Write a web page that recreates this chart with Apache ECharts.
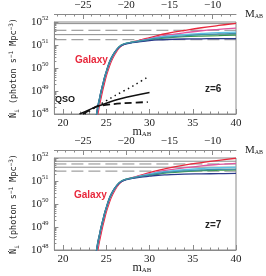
<!DOCTYPE html>
<html><head><meta charset="utf-8">
<script src="https://cdn.jsdelivr.net/npm/echarts@6/dist/echarts.min.js"></script>
<style>html,body{margin:0;padding:0;background:#fff}#c{width:266px;height:276px}</style>
</head><body><div id="c"></div>
<script>
// ---- tick labels ----
const mTickLabels = [20, 25, 30, 35, 40];
const mMinorTicks = [19, 21, 22, 23, 24, 26, 27, 28, 29, 31, 32, 33, 34, 36, 37, 38, 39];
const MTickLabels = [-25, -20, -15, -10];
const MMinorTicks = [-28, -27, -26, -24, -23, -22, -21, -19, -18, -17, -16, -14, -13, -12, -11, -9, -8];
const logTickLabels = [48, 49, 50, 51, 52];
const mRange = [19, 40];
const mToM = 47.3; // m_AB - M_AB offset

// ---- galaxy curves: m_AB grid and log10(N_i) ----
const mGal = [23.8, 24.0, 24.2, 24.4, 24.6, 24.8, 25.0, 25.3, 25.6, 26.0, 26.5, 27.0, 28.0, 29.0, 30.0, 31.0, 32.0, 34.0, 36.0, 38.0, 40.0];
// z = 6
const red6   = [47.6, 47.95, 48.35, 48.7, 49.05, 49.35, 49.65, 50.0, 50.3, 50.6, 50.88, 51.02, 51.13, 51.22, 51.32, 51.42, 51.5, 51.63, 51.75, 51.85, 51.94];
const pink6  = [47.7, 48.1, 48.5, 48.85, 49.2, 49.5, 49.75, 50.1, 50.38, 50.65, 50.9, 51.03, 51.12, 51.2, 51.28, 51.36, 51.43, 51.53, 51.62, 51.68, 51.73];
const cyan6  = [47.75, 48.2, 48.6, 48.95, 49.25, 49.55, 49.8, 50.15, 50.42, 50.68, 50.92, 51.04, 51.12, 51.19, 51.26, 51.33, 51.38, 51.45, 51.5, 51.54, 51.56];
const teal6  = [47.8, 48.3, 48.65, 49.0, 49.3, 49.6, 49.85, 50.2, 50.45, 50.7, 50.93, 51.04, 51.12, 51.18, 51.24, 51.3, 51.34, 51.4, 51.45, 51.48, 51.5];
const green6 = [47.8, 48.25, 48.62, 48.97, 49.28, 49.58, 49.82, 50.18, 50.44, 50.7, 50.93, 51.04, 51.12, 51.17, 51.22, 51.27, 51.31, 51.36, 51.39, 51.41, 51.43];
const navy6  = [47.8, 48.3, 48.65, 49.0, 49.3, 49.6, 49.85, 50.2, 50.45, 50.7, 50.91, 51.02, 51.1, 51.15, 51.19, 51.22, 51.24, 51.26, 51.27, 51.28, 51.28];
// z = 7
const red7   = [47.6, 47.95, 48.35, 48.7, 49.05, 49.35, 49.65, 50.0, 50.3, 50.6, 50.88, 51.03, 51.15, 51.25, 51.36, 51.46, 51.55, 51.69, 51.8, 51.9, 51.99];
const pink7  = [47.7, 48.1, 48.5, 48.85, 49.2, 49.5, 49.75, 50.1, 50.38, 50.65, 50.9, 51.04, 51.14, 51.23, 51.32, 51.4, 51.47, 51.57, 51.66, 51.72, 51.77];
const cyan7  = [47.75, 48.2, 48.6, 48.95, 49.25, 49.55, 49.8, 50.15, 50.42, 50.68, 50.92, 51.05, 51.14, 51.22, 51.3, 51.37, 51.42, 51.49, 51.54, 51.58, 51.6];
const teal7  = [47.8, 48.3, 48.65, 49.0, 49.3, 49.6, 49.85, 50.2, 50.45, 50.7, 50.93, 51.04, 51.13, 51.2, 51.27, 51.33, 51.38, 51.44, 51.48, 51.51, 51.52];
const green7 = [47.8, 48.25, 48.62, 48.97, 49.28, 49.58, 49.82, 50.18, 50.44, 50.7, 50.93, 51.04, 51.13, 51.19, 51.25, 51.3, 51.35, 51.41, 51.45, 51.47, 51.48];
const navy7  = [47.8, 48.3, 48.65, 49.0, 49.3, 49.6, 49.85, 50.2, 50.45, 50.7, 50.91, 51.02, 51.11, 51.17, 51.21, 51.25, 51.27, 51.3, 51.31, 51.32, 51.33];

// ---- QSO lines (z = 6 only) ----
const qsoSolidM  = [21.9, 23.9, 26.0, 28.0, 30.0];
const qsoSolid   = [48.0, 48.32, 48.6, 48.78, 48.93];
const qsoDashM   = [22.3, 23.9, 25.5, 27.0, 29.8];
const qsoDash    = [48.0, 48.33, 48.42, 48.47, 48.52];
const qsoDotM    = [22.5, 23.9, 26.0, 28.0, 29.9];
const qsoDot     = [48.0, 48.33, 48.8, 49.2, 49.63];

// ---- horizontal reference levels (log10 N_i) ----
const hSolid6 = [51.93, 51.45];
const hDash6  = [51.64, 51.23];
const hSolid7 = [51.86, 51.6];
const hDash7  = [51.74, 51.43];

const galColors = {red:'#e8283c', pink:'#e0559f', cyan:'#5cc3e6', teal:'#3f8fa8', green:'#3a9a4a', navy:'#2a3a8c'};
const gray = '#8a8a8a';
const serif = '"Liberation Serif","DejaVu Serif",serif';
const logMinor = [];
for (let n = 48; n < 52; n++) for (let k = 2; k <= 9; k++) logMinor.push(n + Math.log10(k));

function zip(xs, ys){ return xs.map((x,i)=>[x, ys[i]]); }
const minus = v => (v < 0 ? '\u2212' + Math.abs(v) : String(v));

const grids = [
  {left:47, top:22, width:189, height:92},
  {left:47, top:158, width:189, height:92}
];

const xAxes = [], yAxes = [];
[0,1].forEach(g => {
  xAxes.push({
    type:'value', gridIndex:g, position:'bottom', min:mRange[0], max:mRange[1],
    axisLine:{show:true, lineStyle:{color:gray, width:1}},
    axisTick:{show:true, inside:true, length:5, customValues:mTickLabels, lineStyle:{color:gray}},
    axisLabel:{show:true, customValues:mTickLabels, margin:4, fontFamily:serif, fontSize:11, color:'#222'},
    splitLine:{show:false}
  });
  xAxes.push({
    type:'value', gridIndex:g, position:'bottom', min:mRange[0], max:mRange[1],
    axisLine:{show:false}, axisLabel:{show:false}, splitLine:{show:false},
    axisTick:{show:true, inside:true, length:2.5, customValues:mMinorTicks, lineStyle:{color:gray}}
  });
  xAxes.push({
    type:'value', gridIndex:g, position:'top', offset:8, min:mRange[0]-mToM, max:mRange[1]-mToM,
    axisLine:{show:true, lineStyle:{color:gray, width:1}},
    axisTick:{show:true, inside:true, length:5, customValues:MTickLabels, lineStyle:{color:gray}},
    axisLabel:{show:true, customValues:MTickLabels, margin:3, fontFamily:serif, fontSize:11, color:'#222', formatter:minus},
    splitLine:{show:false},
    name:'M{s|AB}', nameLocation:'end', nameGap:9,
    nameTextStyle:{fontFamily:serif, fontSize:11, color:'#222', rich:{s:{fontFamily:serif, fontSize:6, color:'#222', padding:[5,0,0,0]}}}
  });
  xAxes.push({
    type:'value', gridIndex:g, position:'top', offset:8, min:mRange[0]-mToM, max:mRange[1]-mToM,
    axisLine:{show:false}, axisLabel:{show:false}, splitLine:{show:false},
    axisTick:{show:true, inside:true, length:2.5, customValues:MMinorTicks, lineStyle:{color:gray}}
  });
  yAxes.push({
    type:'value', gridIndex:g, min:48, max:52, position:'left',
    axisLine:{show:true, lineStyle:{color:gray}},
    axisTick:{show:true, inside:true, length:4, customValues:logTickLabels, lineStyle:{color:gray}},
    axisLabel:{show:true, customValues:logTickLabels, margin:6, color:'#222',
      formatter: v => '{b|10}{s|' + v + '}',
      rich:{b:{fontFamily:serif, fontSize:11, color:'#222'}, s:{fontFamily:serif, fontSize:6.5, color:'#222', padding:[0,0,7,0]}}},
    splitLine:{show:false},
    name:'\u1E44{sub|i} (photon s{sup|\u22121} Mpc{sup|\u22123})', nameLocation:'middle', nameRotate:90, nameGap:31,
    nameTextStyle:{fontFamily:'"DejaVu Sans Mono","Liberation Mono",monospace', fontSize:8.5, color:'#222',
      rich:{sub:{fontFamily:'"DejaVu Sans Mono",monospace', fontSize:6, color:'#222', padding:[0,0,0,0], verticalAlign:'bottom'},
            sup:{fontFamily:'"DejaVu Sans Mono",monospace', fontSize:6, color:'#222', padding:[0,0,6,0]}}}
  });
  yAxes.push({
    type:'value', gridIndex:g, min:48, max:52, position:'left',
    axisLine:{show:false}, axisLabel:{show:false}, splitLine:{show:false},
    axisTick:{show:true, inside:true, length:2, customValues:logMinor, lineStyle:{color:gray}}
  });
});

const series = [];
function hline(g, y, dashed){
  series.push({type:'line', xAxisIndex:g*4, yAxisIndex:g*2, data:[[mRange[0], y],[mRange[1], y]],
    symbol:'none', silent:true, z:1,
    lineStyle:{color:gray, width:1, type: dashed ? [12,5] : 'solid'}});
}
hSolid6.forEach(v=>hline(0,v,false)); hDash6.forEach(v=>hline(0,v,true));
hSolid7.forEach(v=>hline(1,v,false)); hDash7.forEach(v=>hline(1,v,true));

function gal(g, ys, color){
  series.push({type:'line', xAxisIndex:g*4, yAxisIndex:g*2, data:zip(mGal, ys), smooth:0.4,
    symbol:'none', clip:true, z:3, lineStyle:{color:color, width:1.3}});
}
gal(0, red6, galColors.red); gal(0, pink6, galColors.pink); gal(0, cyan6, galColors.cyan);
gal(0, green6, galColors.green); gal(0, navy6, galColors.navy); gal(0, teal6, galColors.teal);
gal(1, red7, galColors.red); gal(1, pink7, galColors.pink); gal(1, cyan7, galColors.cyan);
gal(1, green7, galColors.green); gal(1, navy7, galColors.navy); gal(1, teal7, galColors.teal);

function qso(xs, ys, type, width){
  series.push({type:'line', xAxisIndex:0, yAxisIndex:0, data:zip(xs, ys), smooth:0.15,
    symbol:'none', clip:true, z:4, lineStyle:{color:'#111', width:width, type:type}});
}
qso(qsoSolidM, qsoSolid, 'solid', 1.5);
qso(qsoDashM, qsoDash, [7,4], 1.8);
qso(qsoDotM, qsoDot, [1.5,3.5], 1.5);

const bold = 'bold 10px "Liberation Sans","DejaVu Sans",sans-serif';
const mabRich = {s:{fontFamily:serif, fontSize:7, fill:'#222', verticalAlign:'bottom', lineHeight:12}};
const graphic = [
  {type:'text', x:75, y:60, style:{text:'Galaxy', font:bold, fill:'#e8283c', verticalAlign:'middle'}},
  {type:'text', x:74, y:195, style:{text:'Galaxy', font:bold, fill:'#e8283c', verticalAlign:'middle'}},
  {type:'text', x:55, y:100, style:{text:'QSO', font:'bold 9px "Liberation Sans",sans-serif', fill:'#111', verticalAlign:'middle'}},
  {type:'text', x:205, y:89, style:{text:'z=6', font:bold, fill:'#222', verticalAlign:'middle'}},
  {type:'text', x:205, y:225, style:{text:'z=7', font:bold, fill:'#222', verticalAlign:'middle'}},
  {type:'text', x:142, y:132, style:{text:'m{s|AB}', fontFamily:serif, fontSize:12, fill:'#222', lineHeight:12, align:'center', verticalAlign:'middle', rich:mabRich}},
  {type:'text', x:142, y:268, style:{text:'m{s|AB}', fontFamily:serif, fontSize:12, fill:'#222', lineHeight:12, align:'center', verticalAlign:'middle', rich:mabRich}}
];

const chart = echarts.init(document.getElementById('c'), null, {renderer:'canvas'});
chart.setOption({
  animation:false,
  backgroundColor:'#fff',
  grid: grids.map(g=>Object.assign({show:true, borderColor:gray, borderWidth:1, backgroundColor:'transparent'}, g)),
  xAxis: xAxes, yAxis: yAxes, series: series, graphic: graphic
});
</script></body></html>
